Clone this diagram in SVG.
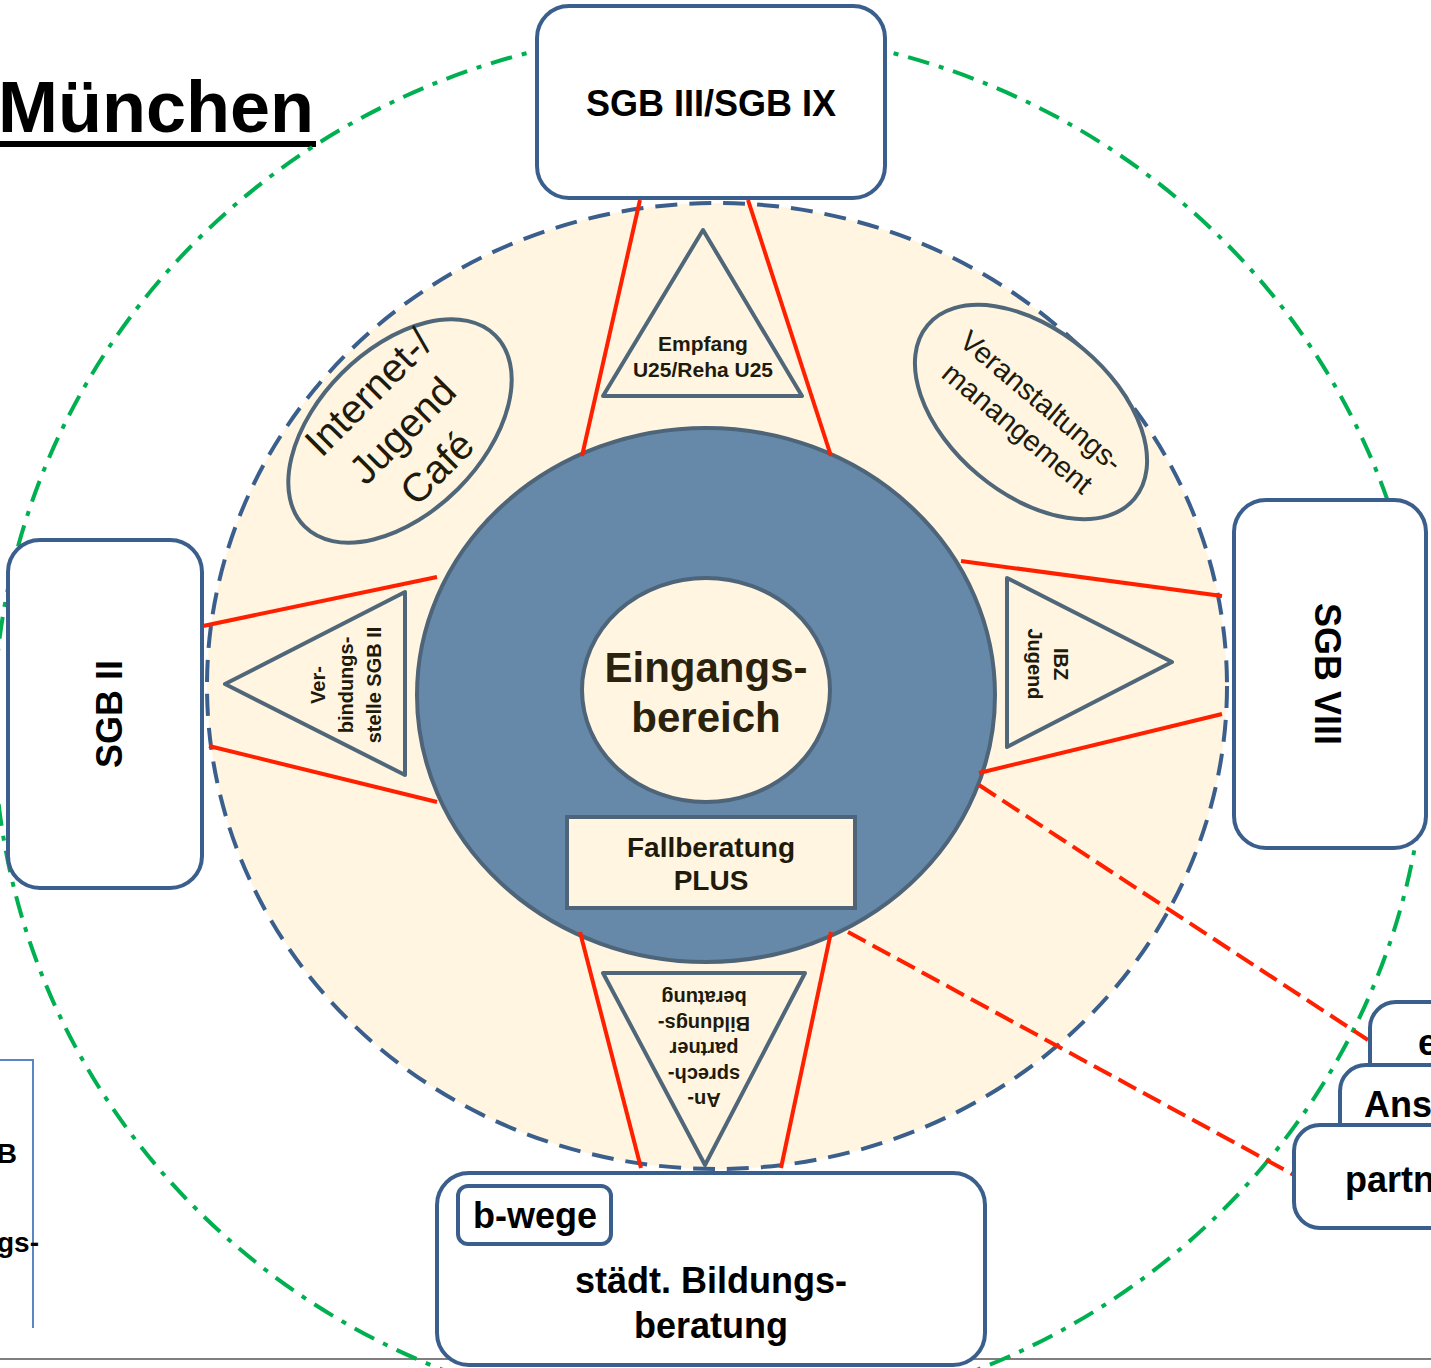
<svg xmlns="http://www.w3.org/2000/svg" width="1431" height="1368" viewBox="0 0 1431 1368">
<style>
.box{fill:#fff;stroke:#3B5F8C;stroke-width:4}
.tri{fill:#FFF5E0;stroke:#50677A;stroke-width:4;stroke-linejoin:round}
.red{stroke:#FF2000;stroke-width:4;fill:none}
.redd{stroke:#FF2000;stroke-width:4;fill:none;stroke-dasharray:20 8}
.t{font-family:"Liberation Sans",Arial,sans-serif;font-weight:bold;fill:#000;text-anchor:middle}
.s{font-family:"Liberation Sans",Arial,sans-serif;font-weight:bold;fill:#1E1A0C;text-anchor:middle;font-size:20px}
.r{font-family:"Liberation Sans",Arial,sans-serif;fill:#1E1A0C;text-anchor:middle}
</style>
<rect width="1431" height="1368" fill="#fff"/>
<line x1="0" y1="1359" x2="1431" y2="1359" stroke="#7F7F7F" stroke-width="2"/>
<g id="title">
<text x="-2" y="132" style="font-family:'Liberation Sans',Arial,sans-serif;font-weight:bold;font-size:72px">München</text>
<rect x="0" y="141" width="316" height="6" fill="#000"/>
</g>
<g id="left-partial">
<polyline points="0,1060 33,1060 33,1328" fill="none" stroke="#5B86C4" stroke-width="2"/>
<text x="17" y="1163" class="t" style="font-size:28px;text-anchor:end">B</text>
<text x="39" y="1252" class="t" style="font-size:28px;text-anchor:end">gs-</text>
</g>
<ellipse id="outer-ring" cx="710" cy="725" rx="716" ry="695" fill="none" stroke="#00B050" stroke-width="4" stroke-dasharray="22 10 5 10"/>
<ellipse id="ring" cx="717" cy="686" rx="510" ry="483" fill="#FFF5E0" stroke="#3B5F8C" stroke-width="4" stroke-dasharray="22 12"/>
<g id="core">
<ellipse cx="706" cy="695" rx="289" ry="267" fill="#6689A9" stroke="#4D6479" stroke-width="4"/>
</g>
<g id="eingang">
<ellipse cx="706" cy="690" rx="124" ry="112" fill="#FFF5E0" stroke="#4D6479" stroke-width="4"/>
<text x="706" y="682" class="t" style="font-size:42px;fill:#2A220C">Eingangs-</text>
<text x="706" y="732" class="t" style="font-size:42px;fill:#2A220C">bereich</text>
</g>
<g id="fallberatung">
<rect x="567" y="817" width="288" height="91" fill="#FFF5E0" stroke="#4D6479" stroke-width="4"/>
<text x="711" y="857" class="t" style="font-size:28px;fill:#1E1A0C">Fallberatung</text>
<text x="711" y="890" class="t" style="font-size:28px;fill:#1E1A0C">PLUS</text>
</g>
<g id="connectors">
<line class="red" x1="640" y1="200" x2="582" y2="456"/>
<line class="red" x1="748" y1="200" x2="831" y2="456"/>
<line class="red" x1="203" y1="626" x2="437" y2="577"/>
<line class="red" x1="209" y1="746" x2="437" y2="802"/>
<line class="red" x1="961" y1="561" x2="1222" y2="596"/>
<line class="red" x1="979" y1="773" x2="1222" y2="714"/>
<line class="red" x1="580" y1="932" x2="641" y2="1168"/>
<line class="red" x1="831" y1="932" x2="781" y2="1168"/>
<line class="redd" x1="979" y1="785" x2="1368" y2="1040"/>
<line class="redd" x1="848" y1="932" x2="1294" y2="1175"/>
</g>
<g id="empfang">
<polygon class="tri" points="703,230 802,396 603,396"/>
<text x="703" y="351" class="s" style="font-size:21px">Empfang</text>
<text x="703" y="377" class="s" style="font-size:21px">U25/Reha U25</text>
</g>
<g id="ansprech">
<polygon class="tri" points="603,973 805,973 705,1165"/>
<text x="704" y="1093" class="s" transform="rotate(180 704 1093)">An-</text>
<text x="704" y="1068" class="s" transform="rotate(180 704 1068)">sprech-</text>
<text x="704" y="1042" class="s" transform="rotate(180 704 1042)">partner</text>
<text x="704" y="1017" class="s" transform="rotate(180 704 1017)">Bildungs-</text>
<text x="704" y="991" class="s" transform="rotate(180 704 991)">beratung</text>
</g>
<g id="verbindung">
<polygon class="tri" points="225,684 405,592 405,775"/>
<text x="325" y="685" class="s" transform="rotate(-90 325 685)">Ver-</text>
<text x="353" y="685" class="s" transform="rotate(-90 353 685)">bindungs-</text>
<text x="381" y="685" class="s" transform="rotate(-90 381 685)">stelle SGB II</text>
</g>
<g id="ibz">
<polygon class="tri" points="1007,578 1172,662 1007,747"/>
<text x="1054" y="664" class="s" transform="rotate(90 1054 664)">IBZ</text>
<text x="1028" y="664" class="s" transform="rotate(90 1028 664)">Jugend</text>
</g>
<g id="internet" transform="translate(400 431) rotate(-45)">
<ellipse cx="0" cy="0" rx="135" ry="82" fill="#FFF5E0" stroke="#50677A" stroke-width="4"/>
<text x="5" y="-36" class="r" style="font-size:40px">Internet-/</text>
<text x="2" y="15" class="r" style="font-size:40px">Jugend</text>
<text x="0" y="66" class="r" style="font-size:40px">Café</text>
</g>
<g id="veranstaltung" transform="translate(1031 412) rotate(40)">
<ellipse cx="0" cy="0" rx="135" ry="82" fill="#FFF5E0" stroke="#50677A" stroke-width="4"/>
<text x="1" y="-5" class="r" style="font-size:29px">Veranstaltungs-</text>
<text x="0" y="31" class="r" style="font-size:29px">manangement</text>
</g>
<g id="sgb3">
<rect class="box" x="537" y="6" width="348" height="192" rx="32"/>
<text x="711" y="116" class="t" style="font-size:36px">SGB III/SGB IX</text>
</g>
<g id="sgb2">
<rect class="box" x="8" y="540" width="194" height="348" rx="32"/>
<text x="122" y="714" class="t" style="font-size:36px" transform="rotate(-90 122 714)">SGB II</text>
</g>
<g id="sgb8">
<rect class="box" x="1234" y="500" width="192" height="348" rx="32"/>
<text x="1315" y="674" class="t" style="font-size:36px" transform="rotate(90 1315 674)">SGB VIII</text>
</g>
<g id="bildungsberatung">
<rect class="box" x="437" y="1173" width="548" height="192" rx="32"/>
<rect class="box" x="458" y="1186" width="153" height="58" rx="10"/>
<text x="535" y="1228" class="t" style="font-size:36px">b-wege</text>
<text x="711" y="1293" class="t" style="font-size:36px">städt. Bildungs-</text>
<text x="711" y="1338" class="t" style="font-size:36px">beratung</text>
</g>
<g id="right-partial">
<rect class="box" x="1370" y="1002" width="120" height="120" rx="26"/>
<text x="1418" y="1055" class="t" style="font-size:36px;text-anchor:start">e</text>
<rect class="box" x="1340" y="1065" width="150" height="120" rx="26"/>
<text x="1364" y="1117" class="t" style="font-size:36px;text-anchor:start">Ans</text>
<rect class="box" x="1294" y="1125" width="200" height="103" rx="26"/>
<text x="1345" y="1192" class="t" style="font-size:36px;text-anchor:start">partn</text>
</g>
</svg>
